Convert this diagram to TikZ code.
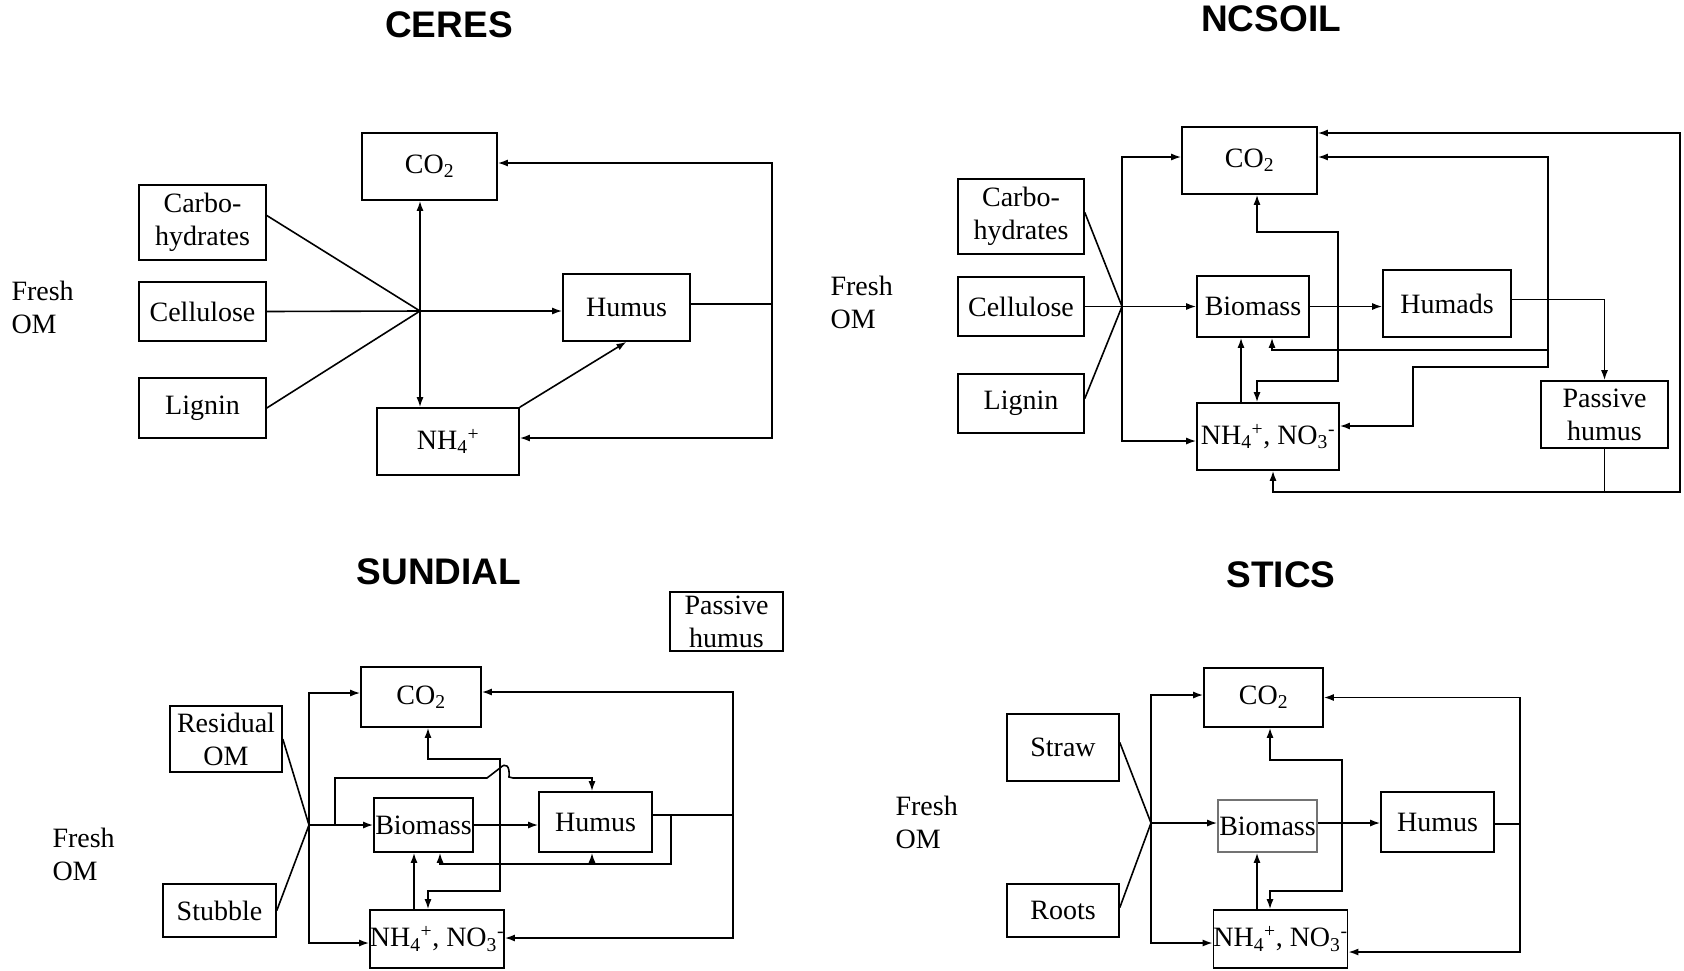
\documentclass[tikz,border=0pt]{standalone}
\usepackage{fontspec}
\setmainfont{Liberation Serif}
\newfontfamily\headfont{Liberation Sans}
\usetikzlibrary{arrows.meta}
\newcommand\boxfont{\fontsize{28}{33}\selectfont}
\newcommand\headsize{\fontsize{37}{42}\selectfont}

\begin{document}
\begin{tikzpicture}[
  x=1pt, y=-1pt,
  box/.style={draw, line width=1.6pt, inner sep=0pt, align=center, font=\boxfont},
  pale box/.style={box, draw=black!55},
  wire/.style={line width=1.6pt},
  flow/.style={wire, -{Latex[length=10pt,width=7pt]}},
  heading/.style={font=\headfont\bfseries\headsize},
  side label/.style={anchor=west, align=left, font=\boxfont}
]
  \useasboundingbox (0,0) rectangle (1684,970);

  % ---------------- CERES ----------------
  \node[heading] (c-title) at (449,25) {CERES};
  \node[side label] (c-fresh) at (8,307) {Fresh\\OM};

  \node[box, minimum width=127, minimum height=75] (c-carb) at (202.5,222.5) {Carbo-\\hydrates};
  \node[box, minimum width=127, minimum height=59] (c-cell) at (202.5,311.5) {Cellulose};
  \node[box, minimum width=127, minimum height=60] (c-lig) at (202.5,408) {Lignin};
  \node[box, minimum width=135, minimum height=67] (c-co2) at (429.5,166.5) {CO\textsubscript{2}};
  \node[box, minimum width=127, minimum height=67] (c-hum) at (626.5,307.5) {Humus};
  \node[box, minimum width=142, minimum height=67] (c-nh4) at (448,441.5) {NH\textsubscript{4}\textsuperscript{+}};

  \coordinate (c-j) at (420,311);
  \coordinate (c-loop) at (772,304);

  \draw[wire] ([yshift=7]c-carb.east) -- (c-j);
  \draw[wire] (c-cell.east) -- (c-j);
  \draw[wire] (c-lig.east) -- (c-j);
  \draw[flow] (c-j) -- (c-j -| c-hum.west);
  \draw[flow] (c-j) -- (c-j |- c-co2.south);
  \draw[flow] (c-j) -- (c-j |- c-nh4.north);
  \draw[flow] (c-nh4.north east) -- (c-hum.south);
  \draw[wire] (c-hum.east |- c-loop) -- (c-loop);
  \draw[flow] (c-loop) |- ([yshift=3.5]c-co2.east);
  \draw[flow] (c-loop) |- ([yshift=3.5]c-nh4.east);

  % ---------------- NCSOIL ----------------
  \node[heading] (n-title) at (1271,19) {NCSOIL};
  \node[side label] (n-fresh) at (827,302) {Fresh\\OM};

  \node[box, minimum width=126, minimum height=75] (n-carb) at (1021,216.5) {Carbo-\\hydrates};
  \node[box, minimum width=126, minimum height=59] (n-cell) at (1021,306.5) {Cellulose};
  \node[box, minimum width=126, minimum height=59] (n-lig) at (1021,403.5) {Lignin};
  \node[box, minimum width=135, minimum height=67] (n-co2) at (1249.5,160.5) {CO\textsubscript{2}};
  \node[box, minimum width=112, minimum height=61] (n-bio) at (1253,306.5) {Biomass};
  \node[box, minimum width=128, minimum height=67] (n-humad) at (1447,303.5) {Humads};
  \node[box, minimum width=127, minimum height=67] (n-pas) at (1604.5,414.5) {Passive\\humus};
  \node[box, minimum width=142, minimum height=67] (n-nh4) at (1268,436.5) {NH\textsubscript{4}\textsuperscript{+}, NO\textsubscript{3}\textsuperscript{-}};

  \coordinate (n-j) at (1122,306.5);
  \coordinate (n-bx) at (1338,306.5);
  \coordinate (n-hx) at (1548,303.5);
  \coordinate (n-far) at (1680,492);

  \draw[wire] ([yshift=4]n-carb.east) -- (n-j);
  \draw[wire] (n-cell.east) -- (n-j);
  \draw[wire] ([yshift=5]n-lig.east) -- (n-j);
  \draw[flow] (n-j) |- ([yshift=3.5]n-co2.west);
  \draw[flow] (n-j) |- ([yshift=-4.5]n-nh4.west);
  \draw[flow] (n-j) -- (n-bio.west);
  \draw[flow] (n-bio.east) -- (n-bio.east -| n-humad.west);
  \draw[flow] ([yshift=4]n-humad.east) -| (n-pas.north);
  % biomass losses
  \draw[flow] (n-bx) -- ++(0,-74.5) -| ([xshift=7.5]n-co2.south);
  \draw[flow] (n-bx) -- ++(0,74.5) -| ([xshift=-11]n-nh4.north);
  \draw[flow] ([xshift=-27]n-nh4.north) -- ([xshift=-27]n-nh4.north |- n-bio.south);
  % humads losses
  \draw[flow] (n-hx) |- ([yshift=3.5]n-co2.east);
  \draw[flow] (n-hx) -- ++(0,46.5) -| ([xshift=19]n-bio.south);
  \draw[flow] (n-hx) -- ++(0,63.5) -- ++(-135,0) |- ([yshift=10.5]n-nh4.east);
  % passive humus losses
  \draw[flow] (n-pas.south) |- (n-far) |- ([yshift=27.5]n-co2.east);
  \draw[flow] (n-pas.south |- n-far) -| ([xshift=5]n-nh4.south);

  % ---------------- SUNDIAL ----------------
  \node[heading] (s-title) at (439,572) {SUNDIAL};
  \node[side label] (s-fresh) at (49,854) {Fresh\\OM};

  \node[box, minimum width=113, minimum height=59] (s-pas) at (726.5,621.5) {Passive\\humus};
  \node[box, minimum width=112, minimum height=66] (s-res) at (226,739) {Residual\\OM};
  \node[box, minimum width=113, minimum height=53] (s-stub) at (219.5,910.5) {Stubble};
  \node[box, minimum width=120, minimum height=60] (s-co2) at (421,697) {CO\textsubscript{2}};
  \node[box, minimum width=99, minimum height=54] (s-bio) at (423.5,825) {Biomass};
  \node[box, minimum width=113, minimum height=60] (s-hum) at (595.5,822) {Humus};
  \node[box, minimum width=126, minimum height=58] (s-nh4) at (437,939) {NH\textsubscript{4}\textsuperscript{+}, NO\textsubscript{3}\textsuperscript{-}};

  \coordinate (s-j) at (309,825);
  \coordinate (s-b) at (335,825);
  \coordinate (s-bx) at (500,825);
  \coordinate (s-r) at (733,815);
  \coordinate (s-hx) at (671,815);
  \coordinate (s-hb) at (592,864);

  \draw[wire] (s-res.east) -- (s-j);
  \draw[wire] (s-stub.east) -- (s-j);
  \draw[flow] (s-j) |- ([yshift=4]s-co2.west);
  \draw[flow] (s-j) |- ([yshift=-4]s-nh4.west);
  \draw[flow] (s-j) -- (s-bio.west);
  \draw[flow] (s-bio.east) -- (s-bio.east -| s-hum.west);
  \draw[flow] (s-b) -- ++(0,-47) -- (487,778) -- (500,768)
    .. controls (506,762) and (510,766) .. (509,777) -- (513,778) -| ([xshift=-3.5]s-hum.north);
  % biomass losses
  \draw[flow] (s-bx) -- ++(0,-66) -| ([xshift=7]s-co2.south);
  \draw[flow] (s-bx) -- ++(0,66) -| ([xshift=-9]s-nh4.north);
  \draw[flow] ([xshift=-23]s-nh4.north) -- ([xshift=-23]s-nh4.north |- s-bio.south);
  % humus losses
  \draw[wire] ([yshift=7]s-hum.east) -- (s-r);
  \draw[flow] (s-r) |- ([yshift=5]s-co2.east);
  \draw[flow] (s-r) |- ([yshift=1]s-nh4.east);
  \draw[flow] (s-hx) -- ++(0,49) -| ([xshift=16.5]s-bio.south);
  \draw[flow] (s-hb) -- (s-hb |- s-hum.south);

  % ---------------- STICS ----------------
  \node[heading] (t-title) at (1281,575) {STICS};
  \node[side label] (t-fresh) at (892,822) {Fresh\\OM};

  \node[box, minimum width=112, minimum height=67] (t-straw) at (1063,747.5) {Straw};
  \node[box, minimum width=112, minimum height=53] (t-roots) at (1063,910.5) {Roots};
  \node[box, minimum width=119, minimum height=59] (t-co2) at (1263.5,697.5) {CO\textsubscript{2}};
  \node[pale box, minimum width=99, minimum height=52] (t-bio) at (1267.5,826) {Biomass};
  \node[box, minimum width=113, minimum height=60] (t-hum) at (1437.5,822) {Humus};
  \node[box, minimum width=125, minimum height=58] (t-nh4) at (1280.5,939) {NH\textsubscript{4}\textsuperscript{+}, NO\textsubscript{3}\textsuperscript{-}};

  \coordinate (t-j) at (1151,823);
  \coordinate (t-bx) at (1342,823);
  \coordinate (t-r) at (1520,824);

  \draw[wire] ([yshift=5]t-straw.east) -- (t-j);
  \draw[wire] ([yshift=3]t-roots.east) -- (t-j);
  \draw[flow] (t-j) |- ([yshift=2.5]t-co2.west);
  \draw[flow] (t-j) |- ([yshift=-4]t-nh4.west);
  \draw[flow] (t-j) -- (t-j -| t-bio.west);
  \draw[flow] (t-bio.east |- t-bx) -- (t-bx -| t-hum.west);
  % biomass losses
  \draw[flow] (t-bx) -- ++(0,-63) -| ([xshift=6.5]t-co2.south);
  \draw[flow] (t-bx) -- ++(0,68) -| ([xshift=-10.5]t-nh4.north);
  \draw[flow] ([xshift=-23.5]t-nh4.north) -- ([xshift=-23.5]t-nh4.north |- t-bio.south);
  % humus losses
  \draw[wire] (t-hum.east |- t-r) -- (t-r);
  \draw[flow] (t-r) |- (t-co2.east);
  \draw[flow] (t-r) |- ([yshift=-13]t-nh4.east);
\end{tikzpicture}
\end{document}
